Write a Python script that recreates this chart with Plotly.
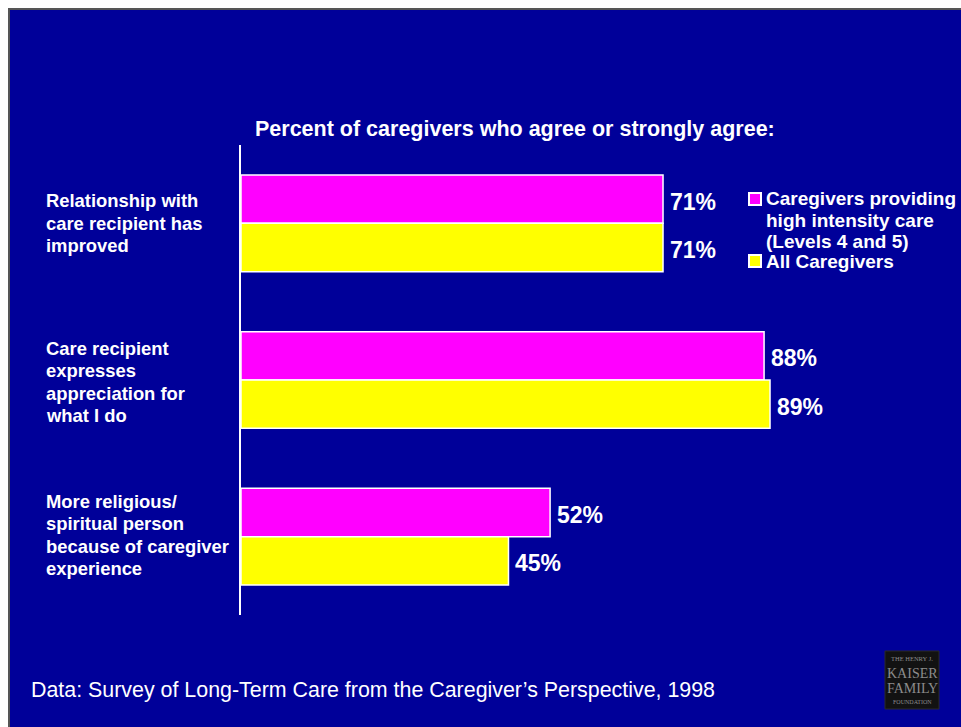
import plotly.graph_objects as go

# ---- data -------------------------------------------------------------
categories = [
    "Relationship with<br>care recipient has<br>improved",
    "Care recipient<br>expresses<br>appreciation for<br>what I do",
    "More religious/<br>spiritual person<br>because of caregiver<br>experience",
]
high_intensity = [71, 88, 52]
all_caregivers = [71, 89, 45]
series_names = [
    "Caregivers providing<br>high intensity care<br>(Levels 4 and 5)",
    "All Caregivers",
]
title_text = "Percent of caregivers who agree or strongly agree:"
source_text = "Data: Survey of Long-Term Care from the Caregiver\u2019s Perspective, 1998"

# ---- style ------------------------------------------------------------
W, H = 961, 727
BG = "#000099"
MAGENTA = "#FF00FF"
YELLOW = "#FFFF00"
WHITE = "#FFFFFF"
SANS = "Liberation Sans, Arial, sans-serif"
SERIF = "Liberation Serif, DejaVu Serif, serif"

def px_x(x):
    return x / W

def px_y(y):
    return 1 - y / H

y_idx = list(range(len(categories)))
bar_offset = 0.155  # half-offset of each bar within its group (category units)

fig = go.Figure()
for vals, color, name in [(high_intensity, MAGENTA, series_names[0]),
                          (all_caregivers, YELLOW, series_names[1])]:
    fig.add_trace(go.Bar(
        x=vals, y=y_idx, orientation="h", name=name,
        marker=dict(color=color, line=dict(color=WHITE, width=1.5)),
        showlegend=False, hoverinfo="x",
    ))

annotations = []
shapes = []

# value labels at the end of each bar
for vals, sign in [(high_intensity, -1), (all_caregivers, 1)]:
    for i, v in enumerate(vals):
        annotations.append(dict(
            text=f"{v}%", xref="x", yref="y", x=v, y=i + sign * bar_offset,
            xanchor="left", yanchor="middle", xshift=5, yshift=-2.5, showarrow=False,
            font=dict(family=SANS, size=23, color=WHITE, weight="bold")))

# slide background with thin frame
shapes.append(dict(type="rect", xref="paper", yref="paper", layer="below",
                   x0=px_x(9), x1=px_x(W + 5), y0=px_y(H + 5), y1=px_y(9),
                   fillcolor=BG, line=dict(color="#555555", width=2)))

# category labels, left aligned, one annotation per line
pitch = 22.5
for i, lab in enumerate(categories):
    lines = lab.split("<br>")
    n = len(lines)
    for k, line in enumerate(lines):
        annotations.append(dict(
            text=line, xref="paper", yref="y", x=px_x(44), y=i,
            xanchor="left", yanchor="middle", showarrow=False,
            yshift=-(k - (n - 1) / 2) * pitch - (2 if i == 1 else 0) + (1.5 if i == 2 else 0),
            font=dict(family=SANS, size=18.4, color=WHITE, weight="bold")))

# title
annotations.append(dict(text=title_text, xref="paper", yref="paper",
                        x=px_x(253), y=px_y(129), xanchor="left", yanchor="middle",
                        showarrow=False,
                        font=dict(family=SANS, size=21.5, color=WHITE, weight="bold")))

# legend drawn by hand
legend_items = [(MAGENTA, series_names[0], 199), (YELLOW, series_names[1], 261)]
for color, name, ytop in legend_items:
    shapes.append(dict(type="rect", xref="paper", yref="paper",
                       x0=px_x(749), x1=px_x(761), y0=px_y(ytop + 6), y1=px_y(ytop - 6),
                       fillcolor=color, line=dict(color=WHITE, width=2)))
    for k, line in enumerate(name.split("<br>")):
        annotations.append(dict(
            text=line, xref="paper", yref="paper", x=px_x(764), y=px_y(ytop + k * 21),
            xanchor="left", yanchor="middle", showarrow=False,
            font=dict(family=SANS, size=19, color=WHITE, weight="bold")))

# source note
annotations.append(dict(text=source_text, xref="paper", yref="paper",
                        x=px_x(29), y=px_y(690), xanchor="left", yanchor="middle",
                        showarrow=False,
                        font=dict(family=SANS, size=21.4, color=WHITE)))

# foundation logo
shapes.append(dict(type="rect", xref="paper", yref="paper",
                   x0=px_x(885), x1=px_x(939), y0=px_y(709), y1=px_y(651),
                   fillcolor="#121212", line=dict(color="#2a2a2a", width=1)))
for txt, yy, sz in [("THE HENRY J.", 658, 6.5), ("KAISER", 673, 14),
                    ("FAMILY", 688, 14), ("FOUNDATION", 702, 6)]:
    annotations.append(dict(text=txt, xref="paper", yref="paper",
                            x=px_x(912), y=px_y(yy), xanchor="center", yanchor="middle",
                            showarrow=False,
                            font=dict(family=SERIF, size=sz, color="#8c8c8c")))

fig.update_layout(
    width=W, height=H,
    margin=dict(l=0, r=0, t=0, b=0, autoexpand=False),
    paper_bgcolor=WHITE, plot_bgcolor="rgba(0,0,0,0)",
    barmode="group", bargap=0.383, bargroupgap=0,
    xaxis=dict(domain=[px_x(241), 1], range=[0, 720 / 5.944],
               visible=False, fixedrange=True),
    yaxis=dict(domain=[px_y(615), px_y(145)], range=[2.5, -0.5],
               showticklabels=False, showgrid=False, zeroline=False,
               showline=True, linecolor=WHITE, linewidth=2, ticks=""),
    shapes=shapes, annotations=annotations, showlegend=False,
)

fig.write_html("out.html")
